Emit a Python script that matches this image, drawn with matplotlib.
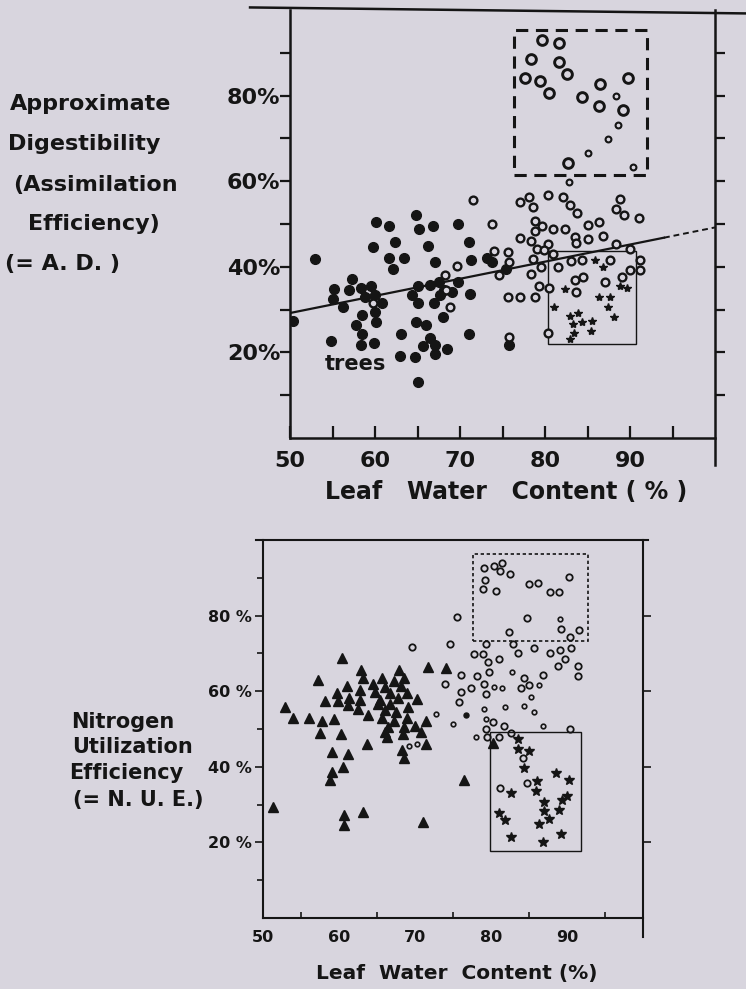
import numpy as np
import matplotlib.pyplot as plt
from matplotlib.patches import Rectangle

# ---------------------------------------------------
# colours / fonts
# ---------------------------------------------------
BG = '#d8d5de'
INK = '#151515'
plt.rcParams['font.family'] = 'DejaVu Sans'
plt.rcParams['font.weight'] = 'bold'

# ---------------------------------------------------
# top panel: approximate digestibility (A.D.) vs leaf water
# ---------------------------------------------------
ad_filled = np.array([
    [52.9, 41.8], [50.4, 27.3], [60.1, 50.5], [61.6, 49.6], [64.8, 52.1], [65.2, 48.8],
    [66.8, 49.6], [69.8, 49.9], [59.8, 44.7], [62.3, 45.9], [61.7, 42.1], [63.4, 42.1],
    [62.1, 39.6], [66.2, 44.9], [71.1, 45.9], [67.1, 41.2], [71.3, 41.6], [57.3, 37.1],
    [55.2, 34.7], [55.1, 32.4], [56.2, 30.7], [56.9, 34.6], [58.3, 35.1], [59.5, 35.4],
    [58.8, 33.0], [60.0, 33.4], [60.8, 31.6], [60.0, 29.5], [58.5, 28.7], [57.8, 26.4],
    [58.5, 24.3], [60.1, 27.0], [54.8, 22.7], [58.4, 21.7], [59.9, 22.1], [63.0, 24.3],
    [62.9, 19.2], [64.7, 19.0], [65.0, 35.5], [64.4, 33.4], [65.1, 31.6], [66.5, 35.7],
    [67.5, 36.5], [67.7, 33.4], [66.9, 31.5], [69.8, 36.5], [69.1, 34.2], [68.0, 28.3],
    [71.2, 33.6], [64.8, 27.2], [66.0, 26.4], [71.1, 24.3], [66.5, 23.3], [65.7, 21.6],
    [67.1, 21.7], [68.5, 20.7], [67.0, 19.6], [68.1, 34.6], [65.1, 13.1], [75.8, 21.7],
    [73.8, 41.2], [75.4, 39.6], [73.2, 42.0],
])
ad_open = np.array([
    [71.5, 55.6], [69.6, 40.2], [68.2, 38.2], [68.8, 30.6], [59.8, 31.5], [73.8, 50.0],
    [77.0, 55.2], [78.1, 56.2], [78.6, 53.9], [80.4, 56.8], [82.1, 56.4], [82.9, 54.4],
    [83.8, 52.6], [88.8, 55.8], [88.4, 53.4], [89.3, 52.1], [91.1, 51.3], [78.8, 50.8],
    [79.7, 49.5], [80.9, 48.8], [82.3, 48.8], [83.5, 47.0], [85.1, 49.8], [86.3, 50.5],
    [78.8, 48.3], [77.0, 46.7], [78.3, 46.1], [80.3, 45.3], [83.7, 45.5], [85.1, 46.4],
    [86.8, 47.2], [88.4, 45.3], [90.0, 44.1], [79.0, 44.1], [79.9, 43.9], [80.9, 43.1],
    [78.6, 41.8], [79.5, 40.0], [81.5, 39.9], [83.1, 41.4], [84.3, 41.6], [87.6, 41.6],
    [91.2, 41.6], [91.2, 39.3], [90.0, 39.3], [89.0, 37.7], [87.0, 36.5], [84.5, 37.7],
    [83.5, 36.8], [83.7, 34.2], [78.3, 38.3], [79.3, 35.4], [80.5, 35.0], [78.8, 33.0],
    [75.7, 32.9], [77.1, 33.0], [80.4, 24.5], [74.0, 43.8], [75.6, 43.5], [75.8, 41.2],
    [74.6, 38.1], [75.8, 23.7], [68.3, 34.6],
])
ad_open_large = np.array([
    [79.7, 93.0], [81.6, 92.2], [78.4, 88.5], [81.6, 87.9], [82.6, 85.0], [77.6, 84.0],
    [79.4, 83.3], [80.5, 80.5], [84.3, 79.6], [86.5, 82.6], [86.3, 77.6], [89.8, 84.0],
    [89.2, 76.6], [82.7, 64.3],
])
ad_open_small = np.array([
    [88.4, 79.9], [88.6, 73.1], [87.4, 69.8], [85.0, 66.5], [90.4, 63.4], [82.8, 59.9],
])
ad_star = np.array([
    [85.9, 41.6], [86.8, 39.9], [82.4, 34.7], [86.3, 32.9], [87.6, 32.9], [88.8, 35.5],
    [89.6, 35.0], [87.4, 30.5], [88.1, 28.3], [81.0, 30.7], [82.9, 28.5], [83.9, 29.1],
    [83.3, 26.6], [84.3, 27.2], [85.5, 27.4], [85.4, 25.1], [83.4, 24.5], [82.9, 23.1],
])
ad_fit_at50 = 29.2      # regression value at 50 %
ad_fit_slope = 0.40     # per % water
ad_fit_solid_end = 94.0
ad_box_dashed = [76.4, 92.0, 61.4, 95.3]   # x0, x1, y0, y1
ad_box_solid = [80.3, 90.7, 22.0, 43.7]

# ---------------------------------------------------
# bottom panel: nitrogen utilization efficiency (N.U.E.)
# ---------------------------------------------------
nue_tri = np.array([
    [60.4, 68.8], [62.9, 65.7], [67.9, 65.6], [71.7, 66.3], [74.1, 66.1], [57.2, 62.9],
    [63.1, 63.4], [65.7, 63.4], [67.2, 62.7], [68.6, 63.4], [61.0, 61.5], [64.5, 62.0],
    [66.0, 61.1], [68.2, 61.4], [59.7, 59.6], [62.8, 60.2], [64.7, 59.9], [66.7, 59.6],
    [68.9, 59.4], [58.1, 57.4], [59.9, 57.4], [61.3, 58.3], [62.7, 57.6], [65.4, 57.6],
    [67.8, 58.1], [70.3, 57.9], [52.9, 55.9], [61.2, 56.4], [65.1, 56.6], [66.7, 56.6],
    [69.1, 55.7], [62.5, 55.2], [66.0, 55.0], [67.5, 54.4], [53.9, 52.8], [56.1, 52.8],
    [57.7, 52.2], [59.3, 52.7], [63.8, 53.7], [65.6, 52.9], [67.3, 52.2], [69.0, 52.9],
    [71.5, 52.2], [70.0, 50.9], [66.4, 50.5], [68.6, 50.5], [57.5, 48.9], [60.3, 48.7],
    [66.0, 49.2], [68.4, 48.7], [70.8, 49.2], [66.3, 47.9], [63.7, 46.0], [71.4, 45.9],
    [68.3, 44.4], [59.1, 43.8], [61.2, 43.3], [68.6, 42.2], [60.5, 40.0], [59.1, 38.7],
    [58.8, 36.4], [51.3, 29.4], [63.2, 28.0], [60.6, 27.2], [60.6, 24.6], [71.0, 25.5],
    [76.4, 36.4], [80.3, 46.3],
])
nue_open = np.array([
    [79.1, 92.7], [80.4, 93.1], [81.4, 93.8], [81.2, 91.8], [82.5, 90.9], [79.2, 89.5],
    [80.7, 86.6], [85.0, 88.3], [86.2, 88.6], [87.8, 86.3], [90.2, 90.2], [84.7, 79.4],
    [89.2, 76.4], [91.6, 76.1], [82.4, 75.7], [90.4, 74.4], [75.5, 79.7], [69.6, 71.7],
    [74.6, 72.6], [74.0, 61.9], [76.0, 64.4], [76.1, 59.9], [75.8, 57.2], [79.3, 72.4],
    [77.8, 69.8], [79.0, 69.8], [82.9, 72.4], [85.6, 71.4], [83.6, 70.1], [87.8, 70.1],
    [89.1, 70.9], [90.5, 71.5], [89.7, 68.6], [88.8, 66.6], [91.5, 66.6], [91.5, 64.0],
    [81.1, 68.6], [79.6, 67.7], [79.8, 65.0], [78.2, 64.0], [79.1, 62.0], [77.4, 60.9],
    [79.3, 59.2], [84.4, 63.4], [83.9, 60.9], [85.0, 61.6], [86.8, 64.4], [80.3, 51.8],
    [79.3, 50.0], [81.7, 50.7], [82.6, 48.9], [79.5, 47.9], [81.1, 48.0], [90.4, 50.0],
    [84.2, 42.2], [81.2, 34.4], [84.7, 35.7], [78.9, 87.0], [89.0, 86.3],
])
nue_open_small = np.array([
    [89.1, 79.2], [72.7, 53.9], [75.0, 51.3], [69.2, 45.4], [70.3, 46.0], [80.4, 61.1],
    [81.5, 60.8], [82.8, 65.0], [86.3, 61.6], [85.3, 58.5], [84.3, 56.1], [85.6, 54.4],
    [81.8, 55.7], [79.1, 55.4], [79.3, 52.7], [86.9, 50.7], [78.0, 47.9],
])
nue_filled_small = np.array([[76.7, 53.7]])
nue_star = np.array([
    [83.5, 47.3], [83.5, 44.6], [85.0, 44.1], [84.3, 39.6], [88.6, 38.3], [90.2, 36.6],
    [86.1, 36.3], [85.9, 33.7], [82.6, 33.2], [90.0, 32.4], [89.3, 31.1], [87.0, 30.6],
    [87.0, 28.3], [88.9, 28.7], [81.1, 27.7], [81.9, 25.8], [87.6, 26.3], [86.3, 25.0],
    [82.6, 21.3], [86.8, 20.2], [89.2, 22.2],
])
nue_box_dashed = [77.6, 92.8, 73.3, 96.2]
nue_box_solid = [79.9, 91.8, 17.6, 49.2]

x_ticks = [50, 60, 70, 80, 90]
x_minor = [55, 65, 75, 85, 95]
y_ticks = [20, 40, 60, 80]
y_minor = [10, 30, 50, 70, 90]

# ---------------------------------------------------
# figure
# ---------------------------------------------------
W, H = 746, 989
fig = plt.figure(figsize=(W / 100, H / 100), dpi=100, facecolor=BG)


def fpos(x, y):
    return x / W, 1 - y / H


ax1 = fig.add_axes([290 / W, 1 - 438 / H, 425 / W, 428 / H])
ax2 = fig.add_axes([263 / W, 1 - 918 / H, 380 / W, 378 / H])

for ax in (ax1, ax2):
    ax.set_facecolor(BG)
    ax.set_xlim(50, 100)
    ax.set_ylim(0, 100)


def box(ax, b, **kw):
    ax.add_patch(Rectangle((b[0], b[2]), b[1] - b[0], b[3] - b[2],
                           fill=False, edgecolor=INK, **kw))


# ---------- top panel ----------
ax1.plot(ad_filled[:, 0], ad_filled[:, 1], 'o', ms=7, color=INK, mec=INK, zorder=3)
ax1.plot(ad_open[:, 0], ad_open[:, 1], 'o', ms=5.6, mfc=BG, mec=INK, mew=1.7, zorder=4)
ax1.plot(ad_open_large[:, 0], ad_open_large[:, 1], 'o', ms=7, mfc='none', mec=INK, mew=2.1, zorder=4)
ax1.plot(ad_open_small[:, 0], ad_open_small[:, 1], 'o', ms=4.2, mfc='none', mec=INK, mew=1.5, zorder=4)
ax1.plot(ad_star[:, 0], ad_star[:, 1], '*', ms=6, color=INK, zorder=4)

fx = np.array([50, ad_fit_solid_end])
ax1.plot(fx, ad_fit_at50 + ad_fit_slope * (fx - 50), color=INK, lw=1.6, zorder=2)
fx2 = np.array([ad_fit_solid_end, 100])
ax1.plot(fx2, ad_fit_at50 + ad_fit_slope * (fx2 - 50), color=INK, lw=1.4,
         ls=(0, (3, 2)), zorder=2, clip_on=False)

box(ax1, ad_box_dashed, lw=2.2, ls=(0, (4, 2.5)))
box(ax1, ad_box_solid, lw=1.0)

ax1.text(54.1, 17.3, 'trees', fontsize=15, ha='left', va='center', color=INK)

ax1.spines['top'].set_visible(False)
ax1.spines['right'].set_visible(False)
for s in ('left', 'bottom'):
    ax1.spines[s].set_linewidth(1.8)
    ax1.spines[s].set_color(INK)
ax1.plot([-0.094, 1.073], [1.006, 0.992], transform=ax1.transAxes, color=INK,
         lw=1.8, clip_on=False)
ax1.plot([1, 1], [1.0, -0.063], transform=ax1.transAxes, color=INK, lw=1.8,
         clip_on=False)

ax1.set_xticks(x_ticks)
ax1.set_xticklabels([str(v) for v in x_ticks])
ax1.set_xticks(x_minor, minor=True)
ax1.tick_params(axis='x', which='both', direction='in', length=9, width=1.6,
                colors=INK, labelsize=16, pad=9)
ax1.set_yticks(y_ticks)
ax1.set_yticklabels([f'{v}%' for v in y_ticks])
ax1.set_yticks(y_minor, minor=True)
ax1.tick_params(axis='y', which='both', direction='out', length=7, width=1.6,
                left=True, right=True, colors=INK, labelsize=16, pad=0)

fig.text(*fpos(506, 492), 'Leaf   Water   Content ( % )', fontsize=17,
         ha='center', va='center', color=INK)

for txt, x, y in [('Approximate', 10, 104), ('Digestibility', 8, 144),
                  ('(Assimilation', 13, 185), ('Efficiency)', 28, 224),
                  ('(= A. D. )', 5, 264)]:
    fig.text(*fpos(x, y), txt, fontsize=16, ha='left', va='center', color=INK)

# ---------- bottom panel ----------
ax2.plot(nue_tri[:, 0], nue_tri[:, 1], '^', ms=6.5, color=INK, zorder=3)
ax2.plot(nue_open[:, 0], nue_open[:, 1], 'o', ms=4.6, mfc='none', mec=INK, mew=1.3, zorder=4)
ax2.plot(nue_open_small[:, 0], nue_open_small[:, 1], 'o', ms=3.3, mfc='none', mec=INK, mew=1.2, zorder=4)
ax2.plot(nue_filled_small[:, 0], nue_filled_small[:, 1], 'o', ms=3.6, color=INK, zorder=4)
ax2.plot(nue_star[:, 0], nue_star[:, 1], '*', ms=7.5, color=INK, zorder=4)

box(ax2, nue_box_dashed, lw=1.2, ls=(0, (2, 1.6)))
box(ax2, nue_box_solid, lw=1.0)

ax2.spines['top'].set_visible(False)
ax2.spines['right'].set_visible(False)
for s in ('left', 'bottom'):
    ax2.spines[s].set_linewidth(1.5)
    ax2.spines[s].set_color(INK)
ax2.plot([-0.018, 1.013], [1.0, 1.0], transform=ax2.transAxes, color=INK,
         lw=1.5, clip_on=False)
ax2.plot([1, 1], [1.0, -0.05], transform=ax2.transAxes, color=INK, lw=1.5,
         clip_on=False)

ax2.set_xticks(x_ticks)
ax2.set_xticklabels([str(v) for v in x_ticks])
ax2.set_xticks(x_minor, minor=True)
ax2.tick_params(axis='x', which='major', direction='in', length=0, colors=INK,
                labelsize=11.5, pad=9)
ax2.tick_params(axis='x', which='minor', direction='in', length=4, width=1.2,
                colors=INK)
ax2.set_yticks(y_ticks)
ax2.set_yticklabels([f'{v} %' for v in y_ticks])
ax2.set_yticks(y_minor, minor=True)
ax2.tick_params(axis='y', which='major', direction='out', length=6, width=1.2,
                left=True, right=True, colors=INK, labelsize=11.5, pad=2)
ax2.tick_params(axis='y', which='minor', direction='out', length=4, width=1.2,
                left=True, right=False, colors=INK)

fig.text(*fpos(457, 973), 'Leaf  Water  Content (%)', fontsize=14.5,
         ha='center', va='center', color=INK)

for txt, x, y in [('Nitrogen', 71, 722), ('Utilization', 72, 747),
                  ('Efficiency', 69, 773), ('(= N. U. E.)', 73, 800)]:
    fig.text(*fpos(x, y), txt, fontsize=15, ha='left', va='center', color=INK)

fig.savefig('out.png', dpi=100, facecolor=BG)
